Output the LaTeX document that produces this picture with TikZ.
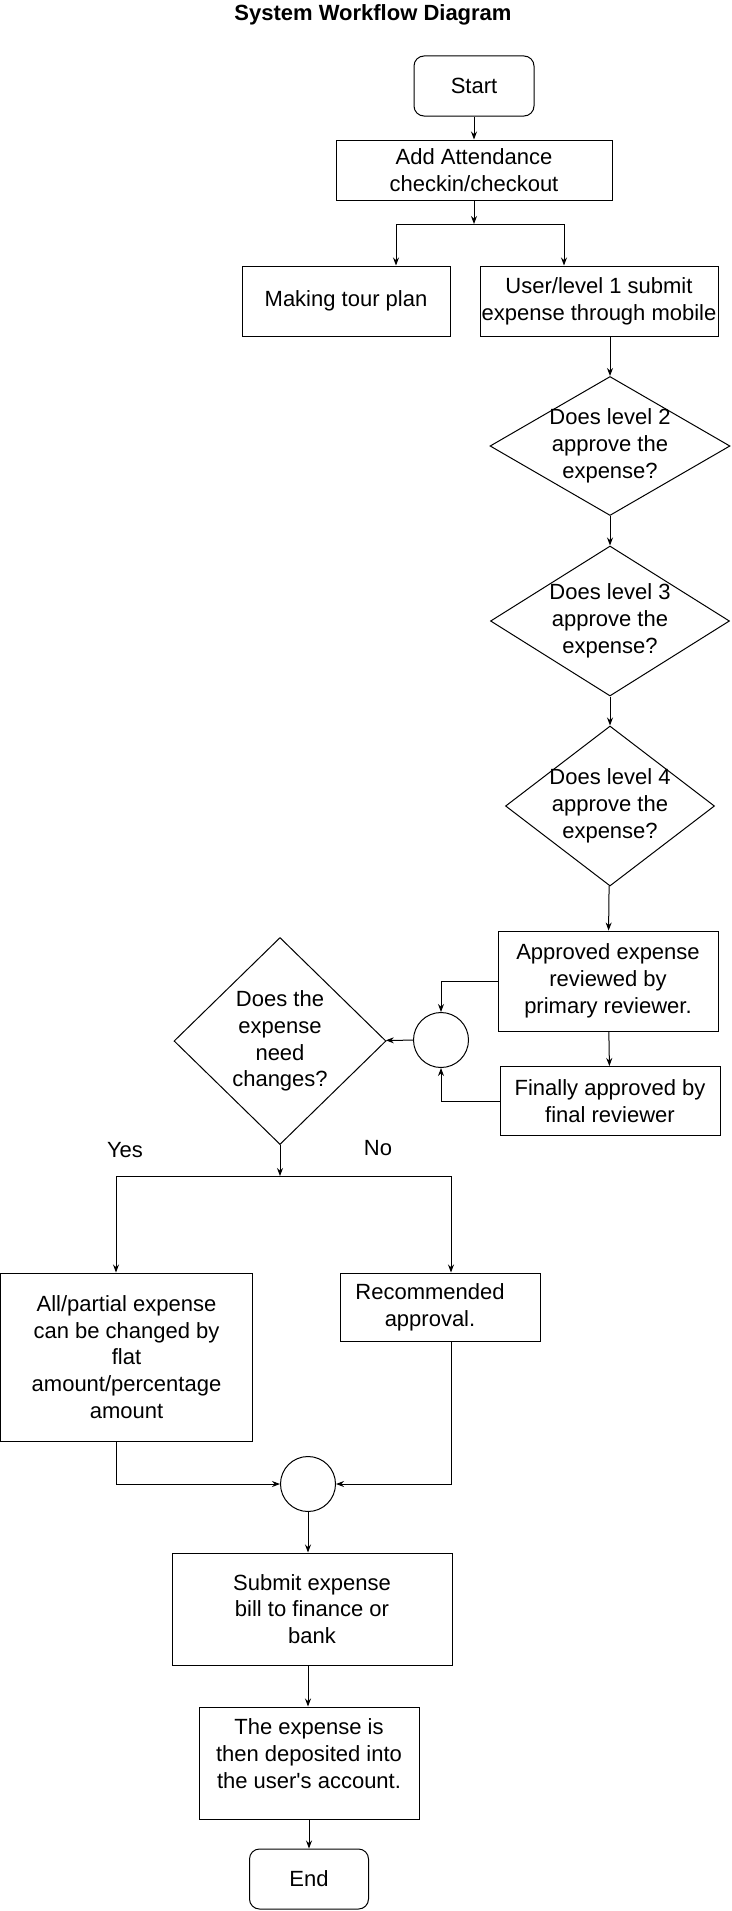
\documentclass[tikz,border=0pt]{standalone}
\usepackage{fontspec}
\setmainfont{Liberation Sans}
\usetikzlibrary{shapes.geometric,arrows.meta,calc}

\newcommand{\dtxt}[1]{\raisebox{-0.25em}[0pt][0pt]{\makebox[0pt]{\begin{tabular}{@{}c@{}}#1\end{tabular}}}}

\begin{document}
\begin{tikzpicture}[x=1pt,y=-1pt,line width=1pt,
  every node/.style={font=\fontsize{22}{26.8}\selectfont},
  box/.style={draw,rectangle,align=center,inner sep=1pt},
  term/.style={box,rounded corners=10pt},
  decision/.style={draw,diamond,inner sep=0pt},
  joint/.style={draw,circle,inner sep=0pt,minimum size=55pt},
  arr/.style={-{Stealth[length=8pt,width=6pt]}}]
\useasboundingbox (0,0) rectangle (731,1911);

\node (title) at (373,15) {\bfseries System Workflow Diagram};

% top part
\node[term,minimum width=120pt,minimum height=60pt] (start) at (474,86) {Start};
\node[box,minimum width=276pt,minimum height=60pt] (att) at (474,170) {Add Attendance\\checkin/checkout};
\node[box,minimum width=208pt,minimum height=70pt] (tour) at (346,301) {Making tour plan};
\node[box,minimum width=238pt,minimum height=70pt] (user) at (599,301) {User/level 1 submit\\expense through mobile};
\coordinate (fork) at (474,224);
\coordinate (forkl) at (396,224);
\coordinate (forkr) at (564,224);

% approval levels
\node[decision,minimum width=240pt,minimum height=139pt] (lvl2) at (610,446) {\dtxt{Does level 2\\approve the\\expense?}};
\node[decision,minimum width=239pt,minimum height=150pt] (lvl3) at (610,621) {\dtxt{Does level 3\\approve the\\expense?}};
\node[decision,minimum width=209pt,minimum height=160pt] (lvl4) at (610,806) {\dtxt{Does level 4\\approve the\\expense?}};
\node[box,minimum width=220pt,minimum height=100pt] (prim) at (608,981) {Approved expense\\reviewed by\\primary reviewer.};
\node[box,minimum width=220pt,minimum height=69pt] (fin) at (610,1101) {Finally approved by\\final reviewer};
\node[joint] (j1) at (441,1040) {};
\node[decision,minimum width=212pt,minimum height=207pt] (chg) at (280,1041) {\dtxt{Does the\\expense\\need\\changes?}};

% yes / no
\coordinate (split) at (280,1176);
\coordinate (splitl) at (116,1176);
\coordinate (splitr) at (451,1176);
\node (yes) at (125,1150) {Yes};
\node (no) at (378,1148) {No};
\node[box,minimum width=252pt,minimum height=168pt] (edit) at (126.5,1357) {All/partial expense\\can be changed by\\flat\\amount/percentage\\amount};
\node[box,minimum width=200pt,minimum height=68pt] (rec) at (440,1307) {Recommended\hspace*{20pt}\\approval.\hspace*{20pt}};
\node[joint] (j2) at (308,1484) {};

% bottom part
\node[box,minimum width=280pt,minimum height=112pt] (bill) at (312,1609) {Submit expense\\bill to finance or\\bank};
\node[box,minimum width=220pt,minimum height=112pt] (dep) at (309,1763) {The expense is\\then deposited into\\the user\textquotesingle s account.\\[-8pt]\mbox{}};
\node[term,minimum width=119pt,minimum height=60pt] (end) at (309,1879) {End};

\draw[arr] (start) -- (att);
\draw[arr] (att) -- (fork);
\draw (forkl) -- (forkr);
\draw[arr] (forkl) -- (forkl |- tour.north);
\draw[arr] (forkr) -- (forkr |- user.north);
\draw[arr] (lvl2.north |- user.south) -- (lvl2.north);
\draw[arr] (lvl2) -- (lvl3);
\draw[arr] (lvl3) -- (lvl4);
\draw[arr] (lvl4) -- (prim);
\draw[arr] (prim) -- (fin);
\draw[arr] (prim.west) -| (j1.north);
\draw[arr] (fin.west) -| (j1.south);
\draw[arr] (j1) -- (chg);
\draw[arr] (chg) -- (split);
\draw (splitl) -- (splitr);
\draw[arr] (splitl) -- (splitl |- edit.north);
\draw[arr] (splitr) -- (splitr |- rec.north);
\draw[arr] (splitl |- edit.south) |- (j2.west);
\draw[arr] (splitr |- rec.south) |- (j2.east);
\draw[arr] (j2) -- (j2 |- bill.north);
\draw[arr] (j2 |- bill.south) -- (j2 |- dep.north);
\draw[arr] (dep) -- (end);
\end{tikzpicture}
\end{document}
